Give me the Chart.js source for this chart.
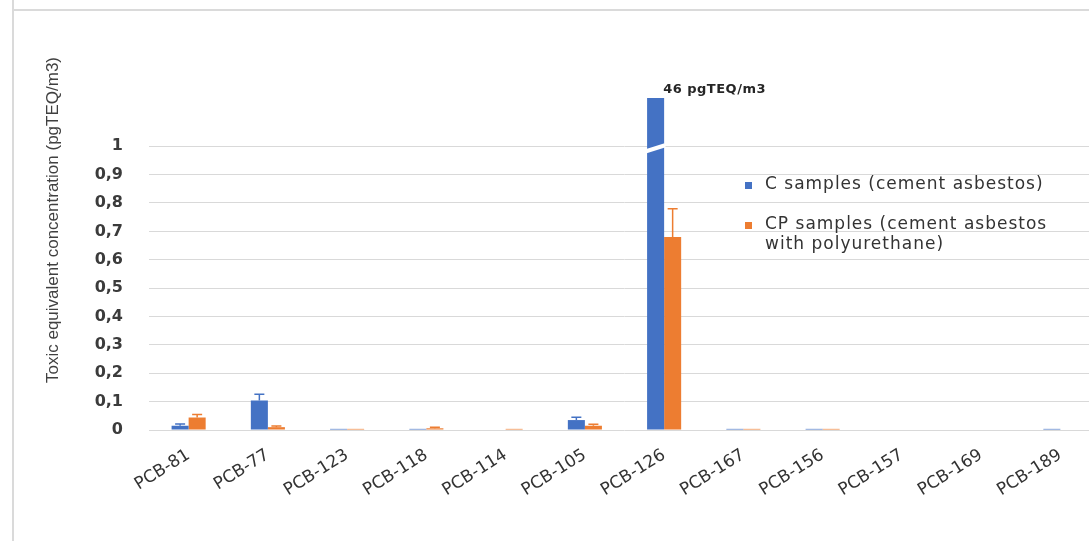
<!DOCTYPE html>
<html>
<head>
<meta charset="utf-8">
<title>PCB toxic equivalent concentration</title>
<script src="https://cdn.jsdelivr.net/npm/chart.js"></script>
<style>
  html, body { margin: 0; padding: 0; background: #fff; overflow: hidden; }
  #wrap { position: relative; width: 1100px; height: 541px; }
  #wrap canvas { position: absolute; left: 0; top: 0; }
  .frame-v { position: absolute; left: 12px; top: 0; width: 2px; height: 541px; background: #dadada; }
  .frame-h { position: absolute; left: 12px; top: 9px; width: 1100px; height: 2px; background: #dadada; }
</style>
</head>
<body>
<div id="wrap">
  <canvas id="myChart" width="1100" height="541"></canvas>
  <div class="frame-v"></div>
  <div class="frame-h"></div>
</div>
<script>
const labels = ['PCB-81', 'PCB-77', 'PCB-123', 'PCB-118', 'PCB-114', 'PCB-105',
                'PCB-126', 'PCB-167', 'PCB-156', 'PCB-157', 'PCB-169', 'PCB-189'];

// pgTEQ/m3, mean values
const cSamples  = [0.015, 0.104, 0.004, 0.004, 0, 0.035, 46, 0.004, 0.004, 0, 0, 0.004];
const cpSamples = [0.044, 0.010, 0.004, 0.006, 0.004, 0.015, 0.68, 0.004, 0.004, 0, 0, 0];

// upper error (added on top of the mean)
const cErrors  = [0.006, 0.022, 0, 0, 0, 0.010, 0, 0, 0, 0, 0, 0];
const cpErrors = [0.011, 0.004, 0, 0.004, 0, 0.005, 0.10, 0, 0, 0, 0, 0];

const seriesNames = [
  ['C samples (cement asbestos)'],
  ['CP samples (cement asbestos', 'with polyurethane)']
];
const colors = ['#4472C4', '#ED7D31'];
const yTitle = 'Toxic equivalent concentration (pgTEQ/m3)';
const breakIndex = labels.indexOf('PCB-126');

const ctx = document.getElementById('myChart');

// error bars, only the upper half
const errorBars = {
  id: 'errorBars',
  afterDatasetsDraw(chart) {
    const y = chart.scales.y;
    const c = chart.ctx;
    [cErrors, cpErrors].forEach((errs, i) => {
      const values = chart.data.datasets[i].data;
      chart.getDatasetMeta(i).data.forEach((bar, j) => {
        if (!errs[j]) return;
        const base = y.getPixelForValue(values[j]);
        const top = y.getPixelForValue(values[j] + errs[j]);
        c.save();
        c.strokeStyle = colors[i];
        c.lineWidth = 1.5;
        c.beginPath();
        c.moveTo(bar.x, base);
        c.lineTo(bar.x, top);
        c.moveTo(bar.x - 5, top);
        c.lineTo(bar.x + 5, top);
        c.stroke();
        c.restore();
      });
    });
  }
};

// cut mark on the tall bar + its value
const axisBreak = {
  id: 'axisBreak',
  afterDatasetsDraw(chart) {
    const y = chart.scales.y;
    const bar = chart.getDatasetMeta(0).data[breakIndex];
    const half = bar.width / 2;
    const y1 = y.getPixelForValue(1);
    const c = chart.ctx;
    c.save();
    c.strokeStyle = '#fff';
    c.lineWidth = 4;
    c.beginPath();
    c.moveTo(bar.x - half - 1, y1 + 5);
    c.lineTo(bar.x + half + 1, y1 - 1);
    c.stroke();
    c.fillStyle = '#262626';
    c.font = '600 13px "DejaVu Sans"';
    c.letterSpacing = '0.5px';
    c.textBaseline = 'middle';
    c.fillText(cSamples[breakIndex] + ' pgTEQ/m3', bar.x + half - 1, chart.chartArea.top - 8);
    c.restore();
  }
};

// axis title and legend drawn by hand
const sideText = {
  id: 'sideText',
  afterDraw(chart) {
    const c = chart.ctx;
    c.save();
    c.fillStyle = '#404040';
    c.font = '17px "Liberation Sans"';
    c.translate(53, 220);
    c.rotate(-Math.PI / 2);
    c.textAlign = 'center';
    c.textBaseline = 'middle';
    c.fillText(yTitle, 0, 0);
    c.restore();

    const rows = [185, 225];
    c.save();
    c.font = '17px "DejaVu Sans"';
    c.letterSpacing = '1px';
    c.textBaseline = 'middle';
    seriesNames.forEach((lines, i) => {
      c.fillStyle = colors[i];
      c.fillRect(745, rows[i] - 3, 7, 7);
      c.fillStyle = '#333';
      lines.forEach((t, k) => c.fillText(t, 765, rows[i] + k * 20));
    });
    c.restore();
  }
};

new Chart(ctx, {
  type: 'bar',
  data: {
    labels: labels,
    datasets: [
      { label: seriesNames[0].join(' '), data: cSamples, backgroundColor: colors[0] },
      { label: seriesNames[1].join(' '), data: cpSamples, backgroundColor: colors[1] }
    ]
  },
  options: {
    responsive: false,
    animation: false,
    devicePixelRatio: 1,
    categoryPercentage: 0.43,
    barPercentage: 1,
    layout: { padding: { top: 98, left: 0, right: 0, bottom: 0 } },
    plugins: {
      legend: { display: false },
      tooltip: { enabled: false }
    },
    scales: {
      x: {
        grid: { display: false, drawTicks: false },
        border: { display: false },
        ticks: {
          autoSkip: false,
          minRotation: 32,
          maxRotation: 32,
          padding: 15,
          color: '#333',
          font: { family: 'DejaVu Sans', size: 17 }
        },
        afterFit(scale) { scale.height = 111; }
      },
      y: {
        min: 0,
        max: 1.17,
        grid: { color: '#d9d9d9', lineWidth: 1, drawTicks: false },
        border: { display: false },
        ticks: {
          stepSize: 0.1,
          padding: 26,
          color: '#3b3b3b',
          font: { family: 'DejaVu Sans', size: 16, weight: 'bold' },
          callback: (v) => (v === 0 || v === 1) ? String(v) : v.toFixed(1).replace('.', ',')
        },
        afterBuildTicks(scale) {
          scale.ticks = scale.ticks.filter(t => t.value <= 1.0001);
        },
        afterFit(scale) { scale.width = 149; }
      }
    }
  },
  plugins: [errorBars, axisBreak, sideText]
});
</script>
</body>
</html>
